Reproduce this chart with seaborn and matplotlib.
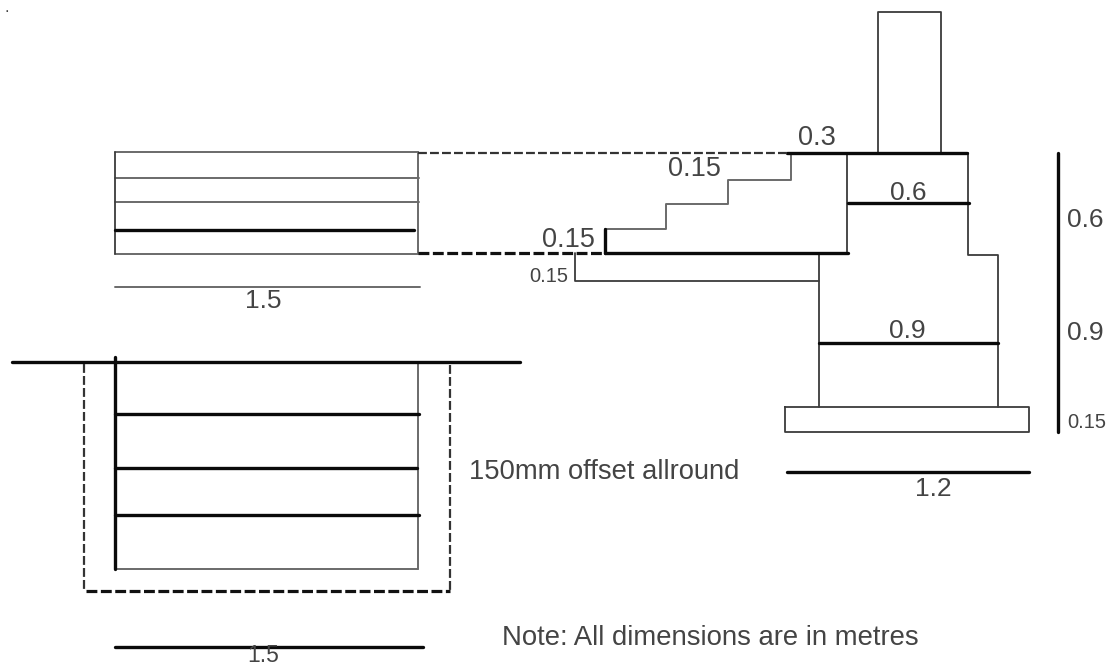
import matplotlib
matplotlib.use("Agg")
import matplotlib.pyplot as plt
import pandas as pd
import seaborn as sns

thin_lines = {
    "stem": [(878, 153), (878, 12), (941, 12), (941, 153)],
    "wall_inner": [(847, 153), (847, 253)],
    "wall_outer": [(968, 153), (968, 255), (998, 255), (998, 407)],
    "lower_inner": [(819, 253), (819, 407)],
    "lower_step": [(575, 253), (575, 281), (819, 281)],
    "footing": [(785, 407), (1029, 407), (1029, 432), (785, 432), (785, 407)],
    "plan_left": [(115, 152), (115, 254)],
}
grey_lines = {
    "stairs": [(791, 153), (791, 180), (728, 180), (728, 204), (666, 204),
               (666, 229), (605, 229)],
    "plan_top": [(115, 152), (418, 152)],
    "plan_a": [(115, 178), (419, 178)],
    "plan_b": [(115, 202), (419, 202)],
    "plan_bottom": [(115, 254), (418, 254)],
    "plan_right": [(418, 152), (418, 254)],
    "dim_plan": [(115, 287), (420, 287)],
    "pit_right": [(418, 362), (418, 569)],
    "pit_bottom": [(115, 569), (418, 569)],
}
thick_lines = {
    "top_slab": [(787, 153), (967, 153)],
    "slab_low": [(605, 253), (848, 253)],
    "riser": [(605, 229), (605, 253)],
    "course_06": [(848, 203), (969, 203)],
    "course_09": [(819, 343), (998, 343)],
    "dim_height": [(1058, 153), (1058, 432)],
    "dim_12": [(787, 472), (1029, 472)],
    "plan_c": [(115, 230), (414, 230)],
    "ground": [(12, 362), (520, 362)],
    "pit_left": [(115, 357), (115, 569)],
    "pit_a": [(115, 414), (419, 414)],
    "pit_b": [(115, 468), (417, 468)],
    "pit_c": [(115, 515), (419, 515)],
    "dim_15": [(115, 647), (423, 647)],
}
dash_lines = {
    "proj_top": [(418, 153), (787, 153)],
    "offset_left": [(84, 364), (84, 591)],
    "offset_right": [(450, 365), (450, 591)],
}
heavy_dash_lines = {
    "proj_low": [(418, 253), (605, 253)],
    "offset_bottom": [(86, 591), (450, 591)],
}

labels = ["0.3", "0.15", "0.15", "0.15", "0.6", "0.6", "0.9", "0.9", "0.15",
          "1.2", "1.5", "1.5", "150mm offset allround",
          "Note: All dimensions are in metres", "."]
label_x = [817, 694, 568, 549, 908, 1085, 907, 1085, 1087, 933, 263, 263, 604, 710, 7]
label_y = [138, 169, 240, 277, 193, 220, 331, 333, 423, 489, 301, 656, 472, 638, 8]
label_size = [19.5, 19.5, 19.5, 14.5, 19, 19, 19, 19, 14.5, 19, 19, 16.5, 19.7, 19.8, 12]


def to_frame(lines):
    rows = [(name, x, y) for name, pts in lines.items() for x, y in pts]
    return pd.DataFrame(rows, columns=["part", "x", "y"])


sns.set_theme(style="white")
plt.rcParams["font.family"] = ["Liberation Sans", "DejaVu Sans"]

fig, ax = plt.subplots(figsize=(11.11, 6.67), dpi=100)
ax.set_position([0, 0, 1, 1])


def draw(lines, **kw):
    sns.lineplot(data=to_frame(lines), x="x", y="y", units="part", estimator=None,
                 sort=False, legend=False, ax=ax, **kw)


draw(grey_lines, color="#6a6a6a", linewidth=1.4)
draw(thin_lines, color="#3c3c3c", linewidth=1.3)
draw(thick_lines, color="#0a0a0a", linewidth=2.4)
draw(dash_lines, color="#333333", linewidth=1.6, linestyle=(0, (4, 1.4)))
draw(heavy_dash_lines, color="#111111", linewidth=2.3, linestyle=(0, (3.4, 1.1)))

for txt, tx, ty, size in zip(labels, label_x, label_y, label_size):
    ax.text(tx, ty, txt, fontsize=size, color="#444444", ha="center", va="center")

ax.set_xlim(0, 1111)
ax.set_ylim(667, 0)
ax.axis("off")

fig.savefig("out.png", dpi=100, facecolor="white")
